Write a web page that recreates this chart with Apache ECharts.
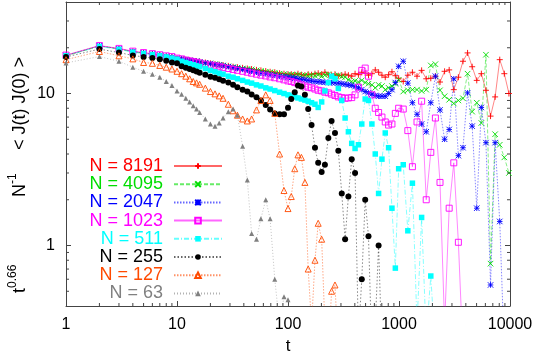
<!DOCTYPE html>
<html>
<head>
<meta charset="utf-8">
<script src="https://cdn.jsdelivr.net/npm/echarts@6/dist/echarts.min.js"></script>
<style>
html, body { margin: 0; padding: 0; background: #fff; }
#chart { width: 536px; height: 361px; }
</style>
</head>
<body>
<div id="chart"></div>
<script>
// time samples (shared by every curve)
var tValues = [1,2,3,4,5,6,7,8,9,10,11,12,13,14,15,16,18,20,22,24,26,29,32,35,39,43,47,52,57,63,69,76,84,92,
  100,107,115,123,132,142,152,163,175,187,201,215,231,247,265,284,305,327,350,375,402,431,462,496,531,570,611,655,702,752,806,864,927,993,
  1092,1201,1321,1453,1599,1759,1934,2128,2341,2575,2832,3116,3427,3770,4147,4562,5018,5520,6072,6679,7347,8082,8890,9779];

// t^0.66 N^-1 <J(t)J(0)>, one array per system size
var n8191 = [17.8,20.6,19.7,18.9,18.5,18.2,17.9,17.6,17.4,17.0,
  16.9,16.7,16.55,16.4,16.3,16.2,16.0,15.8,15.6,15.5,15.4,15.2,15.0,14.9,14.75,14.6,14.5,14.3,14.2,14.05,13.9,13.8,13.6,13.5,13.4,
  13.4,13.3,13.5,13.3,13.2,13.4,13.3,13.5,13.6,13.4,13.8,13.3,13.2,13.4,13.1,13.2,13.4,13.2,13.0,13.5,13.3,13.8,13.6,13.2,13.5,14.3,13.8,13.2,12.8,13.3,13.9,13.1,12.6,
  12.0,13.2,13.8,13.0,14.2,12.5,12.6,13.0,11.9,14.0,14.3,10.6,12.8,16.3,18.5,15.0,12.2,13.5,10.5,7.1,9.5,16.7,13.5,10.0];
var n4095 = [17.7,20.5,19.6,18.8,18.4,18.1,17.8,17.5,17.3,17.0,
  16.9,16.7,16.5,16.4,16.3,16.1,15.9,15.8,15.6,15.4,15.3,15.1,14.9,14.8,14.6,14.5,14.4,14.2,14.1,13.9,13.8,13.7,13.5,13.4,13.3,
  13.3,13.2,13.3,13.1,13.2,13.0,13.2,13.1,13.3,13.0,13.2,13.4,13.1,13.0,13.2,12.9,
  12.8,12.3,12.0,12.1,11.9,12.2,11.8,11.6,11.4,10.9,11.4,11.2,10.6,10.9,11.2,11.6,12.3,
  10.3,10.5,10.6,10.6,10.4,10.6,15.3,15.6,10.5,9.6,9.1,8.6,9.0,9.3,13.5,7.6,8.7,6.4,18.0,0.76,5.4,4.6,3.8,3.0];
var n2047 = [17.8,20.6,19.7,18.9,18.5,18.2,17.9,17.6,17.4,17.0,
  16.9,16.7,16.5,16.4,16.3,16.1,15.9,15.7,15.5,15.4,15.2,15.0,14.8,14.6,14.4,14.2,14.0,13.8,13.6,13.5,13.3,13.2,13.0,12.9,12.8,
  12.7,12.6,12.5,12.4,12.3,12.2,12.1,12.0,11.95,11.9,11.85,11.8,11.8,11.75,11.7,11.6,
  11.5,11.4,11.3,11.1,10.9,10.6,10.3,10.1,9.9,9.7,9.6,9.6,9.6,10.0,10.6,11.8,15.1,
  16.3,11.7,8.7,7.3,6.3,5.6,8.7,13.0,7.8,5.0,5.8,12.5,3.9,4.4,10.1,6.1,1.76,8.1,4.75,0.55,4.75,1.44,0.2];
var n1023 = [17.9,20.7,19.8,19.0,18.6,18.3,18.0,17.7,17.5,17.1,
  16.9,16.6,16.4,16.2,16.05,15.9,15.6,15.4,15.2,15.0,14.8,14.6,14.4,14.2,14.0,13.8,13.6,13.4,13.2,13.05,12.85,12.7,12.5,12.3,
  12.1,12.0,11.8,11.6,11.4,11.2,11.0,10.9,10.7,10.5,10.4,10.2,10.1,9.9,9.7,9.5,9.4,9.3,9.35,9.4,9.8,11.0,14.2,14.7,13.0,9.8,
  8.0,7.5,7.0,6.5,6.2,6.3,7.4,8.0,7.9,5.7,3.3,6.5,8.9,2.0,4.1,6.9,2.6,0.3,1.76,3.5,1.05,0.2];
var n511 = [17.7,20.4,19.5,18.7,18.3,18.0,17.7,17.4,17.1,16.8,
  16.3,16.0,15.7,15.45,15.2,15.0,14.6,14.2,13.9,13.6,13.4,13.0,12.8,12.5,12.2,11.9,11.7,11.4,11.2,10.9,10.7,10.45,10.2,10.0,
  9.8,9.65,9.5,9.35,9.2,9.05,8.9,8.7,8.5,8.1,8.8,10.4,11.8,13.0,12.5,10.8,9.0,6.9,5.6,4.7,4.35,4.6,6.3,9.2,9.0,6.3,
  4.0,2.2,3.7,5.5,4.4,1.76,0.71,3.2,3.4,1.25,2.57,0.3,1.53,0.25,0.63,0.2];
var n255 = [17.4,19.6,18.6,17.8,17.4,17.1,16.8,16.4,16.0,15.8,
  15.1,14.8,14.5,14.2,13.95,13.7,13.3,12.9,12.7,12.4,12.15,11.8,11.4,11.0,10.6,10.3,9.85,9.45,9.0,8.4,7.85,7.4,7.3,7.3,8.05,
  9.2,10.2,11.3,11.1,9.8,7.9,6.2,4.4,3.5,3.05,3.4,5.1,6.6,5.5,4.2,2.2,1.1,2.1,3.7,3.0,0.25,0.6,2.0,1.15,0.2,0.3,1.0,0.2];
var n127 = [16.7,18.9,17.7,16.9,16.0,15.8,15.3,14.9,14.5,14.0,
  13.5,13.0,12.5,12.0,11.75,11.5,10.85,10.3,9.95,9.65,9.3,8.5,7.7,7.2,6.8,6.6,6.8,7.8,9.0,9.8,9.0,7.4,4.0,2.3,1.75,
  2.1,3.2,3.95,3.8,2.6,0.7,0.3,0.8,1.4,1.1,0.3,0.2,0.5,0.55,0.2];
var n63 = [15.9,17.5,16.3,14.9,14.0,13.4,12.8,12.0,11.3,10.4,
  9.9,9.3,8.8,8.3,7.9,7.5,6.8,6.3,6.1,6.4,6.9,7.6,7.9,7.2,4.5,2.7,1.2,1.1,1.5,2.0,1.5,0.6,0.3,0.46,0.44,0.2];

var seriesNames = ['N = 8191','N = 4095','N = 2047','N = 1023','N = 511','N = 255','N = 127','N = 63'];
var xTickLabels = ['1','10','100','1000','10000'];
var yTickLabels = ['1','10'];
var xMinorTicks = [2,3,4,5,6,7,8,9,20,30,40,50,60,70,80,90,200,300,400,500,600,700,800,900,2000,3000,4000,5000,6000,7000,8000,9000];
var yMinorTicks = [0.5,0.6,0.7,0.8,0.9,2,3,4,5,6,7,8,9,20,30];

var X_MIN = 1, X_MAX = 10000, Y_MIN = 0.4, Y_MAX = 40;
var FONT = '"Liberation Sans", Arial, Helvetica, sans-serif';
var AXIS_COLOR = '#444';

function pairs(vals) {
  return vals.map(function (v, i) { return [tValues[i], v]; });
}

// only decades get a label
function decadeLabel(labels) {
  return function (v) {
    var k = Math.log10(v);
    if (Math.abs(k - Math.round(k)) > 0.01) return '';
    return labels[Math.round(k)] || '';
  };
}

var plusPath = 'path://M0,5L10,5M5,0L5,10';
var crossPath = 'path://M0,0L10,10M10,0L0,10';
var starPath = 'path://M0,0L10,10M10,0L0,10M5,0L5,10M0,5L10,5';
var boxPath = 'path://M0,0L10,0L10,10L0,10Z';
var triPath = 'path://M5,0L10,10L0,10Z';

function lineSeries(name, vals, color, symbol, size, dash, fill, border) {
  return {
    name: name,
    type: 'line',
    data: pairs(vals),
    symbol: symbol,
    symbolSize: size,
    clip: true,
    animation: false,
    lineStyle: { color: color, width: 0.8, type: dash, opacity: 0.6 },
    itemStyle: { color: fill, borderColor: color, borderWidth: border },
    emphasis: { disabled: true }
  };
}

var series = [
  lineSeries(seriesNames[0], n8191, '#ff0000', plusPath, 6, 'solid', '#ff0000', 0.9),
  lineSeries(seriesNames[1], n4095, '#00dd00', crossPath, 5.5, [4, 2], '#00dd00', 0.9),
  lineSeries(seriesNames[2], n2047, '#0000ff', starPath, 5.5, [1.5, 1.5], '#0000ff', 0.9),
  lineSeries(seriesNames[3], n1023, '#ff00ff', boxPath, 6, 'solid', 'rgba(0,0,0,0)', 0.9),
  lineSeries(seriesNames[4], n511, '#00ffff', 'rect', 5.5, [5, 2, 1, 2], '#00ffff', 0),
  lineSeries(seriesNames[5], n255, '#000000', 'circle', 6, [1.5, 2], '#000000', 0),
  lineSeries(seriesNames[6], n127, '#ff4a00', triPath, 6, [1.5, 1.5], 'rgba(0,0,0,0)', 0.9),
  lineSeries(seriesNames[7], n63, '#808080', 'triangle', 5, [1, 2], '#808080', 0)
];
var legendColors = ['#ff0000', '#00dd00', '#0000ff', '#ff00ff', '#00ffff', '#000000', '#ff4a00', '#808080'];

// minor ticks of the log axes, mirrored on both sides of the frame
series.push({
  type: 'custom',
  silent: true,
  clip: false,
  z: 10,
  data: xMinorTicks.map(function (v) { return [v, Y_MIN]; }),
  renderItem: function (params, api) {
    var v = api.value(0);
    var b = api.coord([v, Y_MIN]);
    var t = api.coord([v, Y_MAX]);
    return { type: 'group', children: [
      { type: 'line', shape: { x1: b[0], y1: b[1], x2: b[0], y2: b[1] - 3 }, style: { stroke: AXIS_COLOR, lineWidth: 1 } },
      { type: 'line', shape: { x1: t[0], y1: t[1], x2: t[0], y2: t[1] + 3 }, style: { stroke: AXIS_COLOR, lineWidth: 1 } }
    ] };
  }
});
series.push({
  type: 'custom',
  silent: true,
  clip: false,
  z: 10,
  data: yMinorTicks.map(function (v) { return [X_MIN, v]; }),
  renderItem: function (params, api) {
    var v = api.value(1);
    var l = api.coord([X_MIN, v]);
    var r = api.coord([X_MAX, v]);
    return { type: 'group', children: [
      { type: 'line', shape: { x1: l[0], y1: l[1], x2: l[0] + 3, y2: l[1] }, style: { stroke: AXIS_COLOR, lineWidth: 1 } },
      { type: 'line', shape: { x1: r[0], y1: r[1], x2: r[0] - 3, y2: r[1] }, style: { stroke: AXIS_COLOR, lineWidth: 1 } }
    ] };
  }
});

var legends = seriesNames.map(function (name, i) {
  return {
    data: [{ name: name, textStyle: { color: legendColors[i] } }],
    orient: 'vertical',
    align: 'right',
    right: 313,
    top: 157 + i * 18.2,
    padding: 0,
    itemGap: 0,
    itemWidth: 48,
    itemHeight: 7,
    selectedMode: false,
    textStyle: { fontSize: 18, fontFamily: FONT, lineHeight: 18, padding: [0, 6, 0, 0] }
  };
});

function axisBase() {
  return {
    type: 'log',
    logBase: 10,
    axisLine: { show: true, onZero: false, lineStyle: { color: AXIS_COLOR, width: 1 } },
    axisTick: { show: true, inside: true, length: 5, lineStyle: { color: AXIS_COLOR, width: 1 } },
    splitLine: { show: false },
    minorTick: { show: false }
  };
}

var xBottom = axisBase();
xBottom.min = X_MIN; xBottom.max = X_MAX; xBottom.position = 'bottom';
xBottom.axisLabel = { color: '#000', fontSize: 16, fontFamily: FONT, margin: 11, formatter: decadeLabel(xTickLabels) };
xBottom.name = 't';
xBottom.nameLocation = 'middle';
xBottom.nameGap = 30;
xBottom.nameTextStyle = { color: '#000', fontSize: 17, fontFamily: FONT };

var xTop = axisBase();
xTop.min = X_MIN; xTop.max = X_MAX; xTop.position = 'top';
xTop.axisLabel = { show: false };

var yLeft = axisBase();
yLeft.min = Y_MIN; yLeft.max = Y_MAX; yLeft.position = 'left';
yLeft.axisLabel = { color: '#000', fontSize: 16, fontFamily: FONT, margin: 11, formatter: decadeLabel(yTickLabels) };

var yRight = axisBase();
yRight.min = Y_MIN; yRight.max = Y_MAX; yRight.position = 'right';
yRight.axisLabel = { show: false };

// vertical y title in three pieces, read bottom to top
var titleRich = {
  m: { fontSize: 18, fontFamily: FONT, fill: '#000', lineHeight: 26 },
  s: { fontSize: 12, fontFamily: FONT, fill: '#000', lineHeight: 12, verticalAlign: 'top' }
};
function titlePiece(text, y, align) {
  return {
    type: 'text',
    x: 20,
    y: y,
    rotation: Math.PI / 2,
    silent: true,
    style: { text: text, align: align, verticalAlign: 'middle', rich: titleRich }
  };
}

var chart = echarts.init(document.getElementById('chart'), null, { renderer: 'canvas' });
chart.setOption({
  animation: false,
  backgroundColor: '#fff',
  grid: { left: 66, right: 26, top: 2, bottom: 55, containLabel: false },
  legend: legends,
  xAxis: [xBottom, xTop],
  yAxis: [yLeft, yRight],
  graphic: [
    titlePiece('{m|t}{s|0.66}', 293, 'left'),
    titlePiece('{m|N}{s|-1}', 197, 'left'),
    titlePiece('{m|< J(t) J(0) >}', 57, 'right')
  ],
  series: series
});
</script>
</body>
</html>
